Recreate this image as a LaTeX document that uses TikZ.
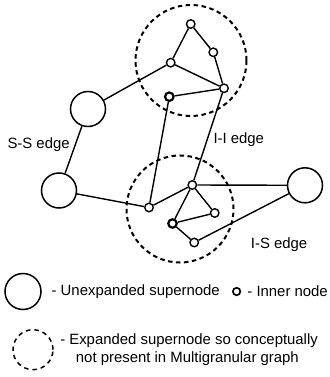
\documentclass[tikz,border=0pt]{standalone}
\usepackage{fontspec}
\setmainfont{Liberation Sans}
\usetikzlibrary{positioning}

\begin{document}
\begin{tikzpicture}[x=1pt, y=-1pt]
    \tikzset{ sup/.style ={draw, circle, line width=1.5pt, minimum size=35pt, inner sep=0pt} }
    \tikzset{ xsup/.style={draw, circle, line width=2pt, dash pattern=on 4.5pt off 3.5pt, inner sep=0pt} }
    \tikzset{ inr/.style ={draw, circle, line width=1.4pt, fill=white, minimum size=8.5pt, inner sep=0pt} }
    \tikzset{ inrb/.style={inr, line width=2.2pt} }
    \tikzset{ edg/.style ={line width=1.4pt} }
    \tikzset{ lbl/.style ={inner sep=0pt, font=\fontsize{14.9}{18.3}\selectfont} }

    \useasboundingbox (0,0) rectangle (329,377);

    % expanded supernodes
    \node[xsup, minimum size=111pt] (x1) at (191.0, 60.5) {};
    \node[xsup, minimum size=107pt] (x2) at (180.0,209.0) {};

    % supernodes
    \node[sup] (s1) at ( 88.0,109.0) {};
    \node[sup] (s2) at ( 59.0,190.5) {};
    \node[sup] (s3) at (305.0,185.3) {};

    % inner nodes
    \node[inr ] (a1) at (190.7, 24.0) {};
    \node[inr ] (a2) at (213.3, 52.3) {};
    \node[inr ] (a3) at (170.7, 62.7) {};
    \node[inr ] (a4) at (224.0, 88.3) {};
    \node[inrb] (a5) at (169.3, 96.7) {};
    \node[inr ] (b1) at (192.3,185.0) {};
    \node[inr ] (b2) at (149.0,207.5) {};
    \node[inr ] (b3) at (214.7,213.0) {};
    \node[inrb] (b4) at (172.5,223.5) {};
    \node[inr ] (b5) at (194.2,242.5) {};

    % edges
    \draw[edg] (s1) -- (a3);
    \draw[edg] (s1) -- (s2);
    \draw[edg] (s2) -- (b2);
    \draw[edg] (a1) -- (a3);
    \draw[edg] (a1) -- (a2);
    \draw[edg] (a2) -- (a4);
    \draw[edg] (a3) -- (a4);
    \draw[edg] (a5) -- (a4);
    \draw[edg] (a5) -- (b2);
    \draw[edg] (a4) -- (b1);
    \draw[edg] (b2) -- (b1);
    \draw[edg] (b1) -- (s3);
    \draw[edg] (b1) -- (b3);
    \draw[edg] (b1) -- (b4);
    \draw[edg] (b3) -- (b4);
    \draw[edg] (b4) -- (b5);
    \draw[edg] (b5) -- (s3);

    % edge labels
    \node[lbl, anchor=west] (ss) at (  7.3,145.0) {S-S edge};
    \node[lbl, anchor=west] (ii) at (213.3,139.3) {I-I edge};
    \node[lbl, anchor=west] (is) at (250.7,244.3) {I-S edge};

    % legend
    \node[sup, minimum size=36pt] (l1) at (23.0,291.5) {};
    \node[lbl, right=9.7pt of l1] (l1t) {- Unexpanded supernode};
    \node[inr, minimum size=7.5pt, line width=1.7pt, right=12pt of l1t] (l2) {};
    \node[lbl, right=6pt of l2] (l2t) {- Inner node};
    \node[xsup, minimum size=40pt, line width=1.5pt, dash pattern=on 4.5pt off 4pt] (l3) at (33.0,349.7) {};
    \node[lbl, right=6.3pt of l3, align=left] (l3t) {- Expanded supernode so conceptually\\\hspace*{15.7pt}not present in Multigranular graph};
\end{tikzpicture}
\end{document}
